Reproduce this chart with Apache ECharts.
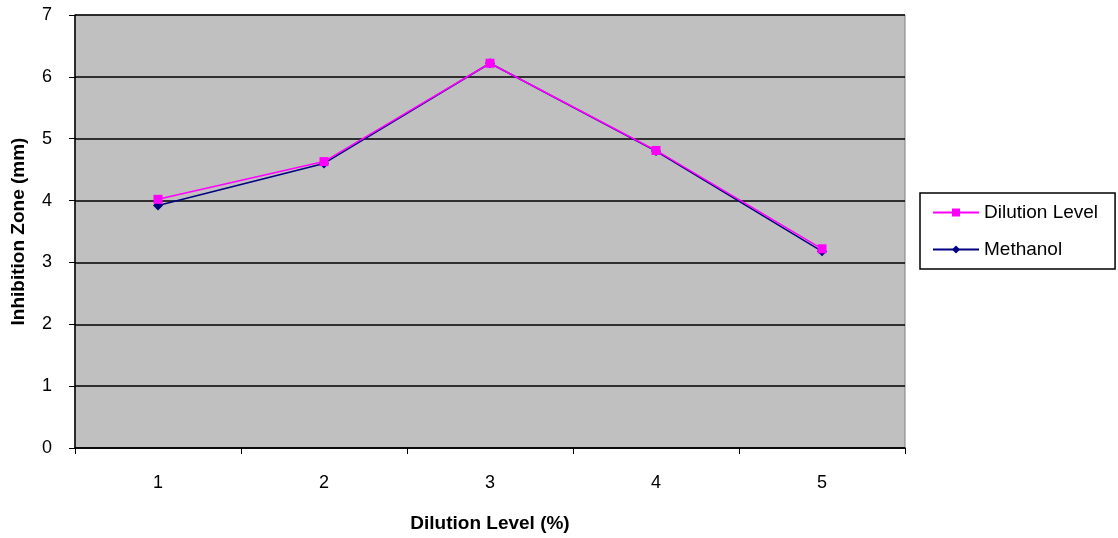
<!DOCTYPE html>
<html>
<head>
<meta charset="utf-8">
<style>
  html, body { margin: 0; padding: 0; background: #ffffff; }
  #chart { width: 1118px; height: 538px; }
</style>
<script src="https://cdn.jsdelivr.net/npm/echarts@6/dist/echarts.min.js"></script>
</head>
<body>
<div id="chart"></div>
<script>
// Dilution levels on the category axis
const categories = ['1', '2', '3', '4', '5'];
// Inhibition zone (mm) per dilution level
const dilutionLevelValues = [4.02, 4.63, 6.22, 4.81, 3.22];
const methanolValues = [3.92, 4.6, 6.22, 4.8, 3.18];

const chart = echarts.init(document.getElementById('chart'), null, { renderer: 'canvas' });
const font = 'Liberation Sans, Arial, sans-serif';

chart.setOption({
  animation: false,
  backgroundColor: '#ffffff',
  textStyle: { fontFamily: font },
  grid: {
    left: 75, right: 213, top: 15, bottom: 90,
    containLabel: false,
    outerBoundsMode: 'none',
    show: true, backgroundColor: '#c0c0c0', borderColor: '#808080', borderWidth: 1
  },
  legend: {
    orient: 'vertical',
    left: 920, top: 193,
    padding: [10, 17, 10, 12],
    itemGap: 18,
    itemWidth: 46, itemHeight: 10,
    borderColor: '#000000', borderWidth: 1.5,
    backgroundColor: '#ffffff',
    textStyle: { fontFamily: font, fontSize: 19, color: '#000000' },
    data: ['Dilution Level', 'Methanol']
  },
  xAxis: {
    type: 'category',
    data: categories,
    boundaryGap: true,
    name: 'Dilution Level (%)',
    nameLocation: 'middle',
    nameGap: 66,
    nameTextStyle: { fontFamily: font, fontSize: 19, fontWeight: 'bold', color: '#000000' },
    axisLine: { lineStyle: { color: '#000000', width: 1.5 } },
    axisTick: { show: true, alignWithLabel: false, length: 6, lineStyle: { color: '#000000' } },
    axisLabel: { fontFamily: font, fontSize: 18, color: '#000000', margin: 26 },
    splitLine: { show: false }
  },
  yAxis: {
    type: 'value',
    min: 0, max: 7, interval: 1,
    name: 'Inhibition Zone (mm)',
    nameLocation: 'middle',
    nameGap: 47,
    nameTextStyle: { fontFamily: font, fontSize: 19, fontWeight: 'bold', color: '#000000' },
    axisLine: { show: true, lineStyle: { color: '#000000', width: 1.5 } },
    axisTick: { show: true, length: 6, lineStyle: { color: '#000000' } },
    axisLabel: { fontFamily: font, fontSize: 18, color: '#000000', margin: 23 },
    splitLine: { show: true, lineStyle: { color: '#000000', width: 1.5 } }
  },
  series: [
    {
      name: 'Dilution Level',
      type: 'line',
      data: dilutionLevelValues,
      z: 3,
      symbol: 'rect',
      symbolSize: 9,
      color: '#ff00ff',
      lineStyle: { color: '#ff00ff', width: 1.5 },
      itemStyle: { color: '#ff00ff' }
    },
    {
      name: 'Methanol',
      type: 'line',
      data: methanolValues,
      z: 2,
      symbol: 'diamond',
      symbolSize: 10,
      color: '#000080',
      lineStyle: { color: '#000080', width: 1.5 },
      itemStyle: { color: '#000080' }
    }
  ]
});
</script>
</body>
</html>
